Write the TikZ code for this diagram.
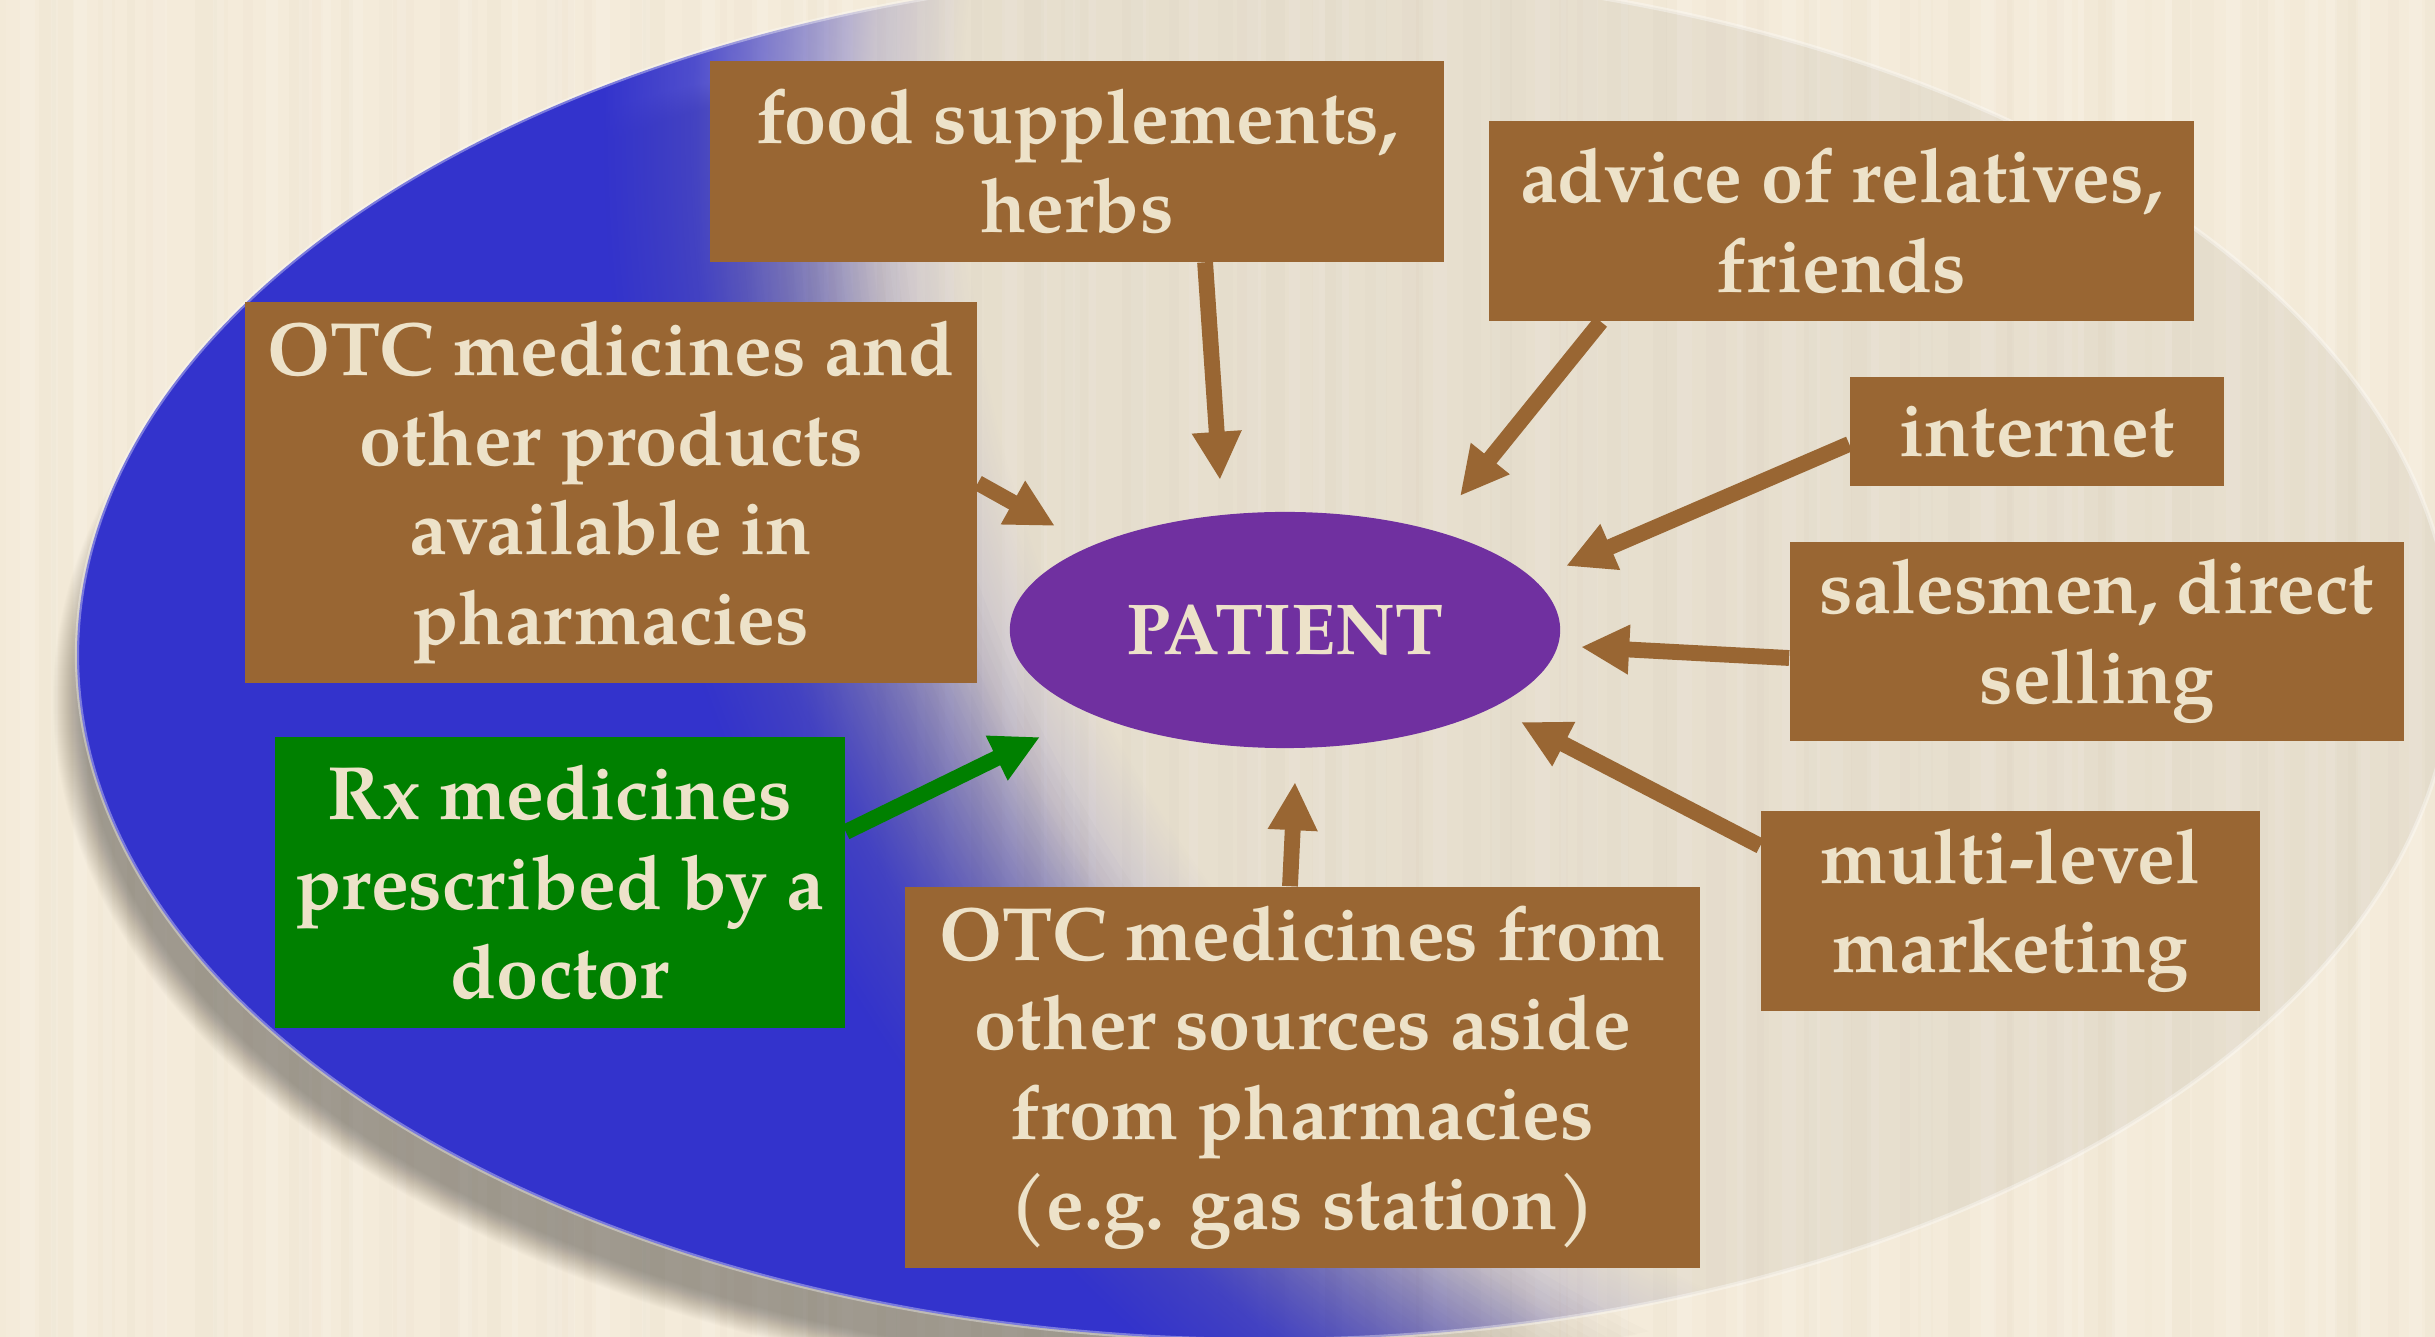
\documentclass[tikz,border=0pt]{standalone}
\usepackage{fontspec}
\usetikzlibrary{arrows.meta,shapes.geometric,fadings}
\newfontfamily\boxfont{texgyrepagella-bold.otf}

\definecolor{boxbrown}{RGB}{153,102,51}
\definecolor{cream}{RGB}{237,226,201}
\definecolor{rxgreen}{RGB}{0,128,0}
\definecolor{patpurple}{RGB}{112,48,160}
\definecolor{ovalblue}{RGB}{51,51,204}
\definecolor{paper}{RGB}{244,235,218}
\definecolor{stripe}{RGB}{200,182,150}
\definecolor{fadeclear}{gray}{0}
\definecolor{fadesolid}{gray}{1}

% radial mask: clear near the upper right, opaque further out
\pgfdeclareradialshading{ovalmask}{\pgfpointorigin}{%
  color(0bp)=(fadeclear); color(361.4bp)=(fadeclear);
  color(387.0bp)=(fadesolid!15.6!fadeclear);
  color(412.6bp)=(fadesolid!50!fadeclear);
  color(438.2bp)=(fadesolid!84.4!fadeclear);
  color(463.8bp)=(fadesolid); color(740bp)=(fadesolid)}
\pgfdeclarefading{ovalfade}{\pgfuseshading{ovalmask}}

\begin{document}
\begin{tikzpicture}[x=0.01cm, y=-0.01cm,
  box/.style={fill=boxbrown, text=cream, align=center, inner sep=0pt,
              font=\boxfont\fontsize{21.5}{25.5}\selectfont},
  feed/.style={draw=boxbrown, line width=4.5pt,
               -{Triangle[length=13.7pt,width=13.2pt]}},
  rxfeed/.style={feed, draw=rxgreen}]

\useasboundingbox (0,0) rectangle (2435,1337);
\clip (0,0) rectangle (2435,1337);

% paper background with soft vertical stripes
\fill[paper] (0,0) rectangle (2435,1337);
\foreach \i in {0,...,78} {
  \pgfmathsetmacro{\sx}{\i*31+10*sin(\i*131)}
  \pgfmathsetmacro{\sw}{6+16*abs(sin(\i*47))}
  \pgfmathsetmacro{\so}{0.015+0.035*abs(sin(\i*73))}
  \fill[stripe, opacity=\so] (\sx,0) rectangle ++(\sw,1337);
}
\foreach \i in {0,...,60} {
  \pgfmathsetmacro{\sx}{\i*41+20*cos(\i*59)}
  \pgfmathsetmacro{\sw}{5+10*abs(cos(\i*83))}
  \fill[white, opacity=0.12] (\sx,0) rectangle ++(\sw,1337);
}

% soft drop shadow of the large oval (only where the oval is blue)
\foreach \k in {0,...,29} {
  \pgfmathsetmacro{\ra}{1173+\k}
  \pgfmathsetmacro{\rb}{670+\k}
  \pgfmathsetmacro{\rc}{1340+8*\k}
  \begin{scope}
    \clip (1255,700) ellipse [x radius=\ra, y radius=\rb];
    \fill[black, opacity=0.0135, even odd rule]
      (-3000,-3000) rectangle (5500,4500) (2239,128) circle (\rc);
  \end{scope}
}

% large oval: faint tint, then blue fading out towards the upper right
\fill[black, opacity=0.05] (1265,655) ellipse [x radius=1188, y radius=685];
\fill[ovalblue, path fading=ovalfade, fit fading=false,
      fading transform={shift={(2239,128)}}]
  (1265,655) ellipse [x radius=1188, y radius=685];
\draw[white, opacity=0.35, line width=1.2pt] (1265,655) ellipse [x radius=1188, y radius=685];

% sources
\node[box, minimum width=7.34cm, minimum height=2.00cm] (food)  at (1077,161.5) {food supplements,\\herbs};
\node[box, minimum width=7.05cm, minimum height=2.00cm] (advice) at (1841.5,221) {advice of relatives,\\friends};
\node[box, minimum width=7.32cm, minimum height=3.81cm] (otcph) at (611,492.5) {OTC medicines and\\other products\\available in\\pharmacies};
\node[box, minimum width=3.74cm, minimum height=1.09cm] (net)   at (2037,431.5) {internet};
\node[box, minimum width=6.14cm, minimum height=1.99cm] (sales) at (2097,641.5) {salesmen, direct\\selling};
\node[box, fill=rxgreen, minimum width=5.70cm, minimum height=2.91cm] (rx) at (560,882.5) {Rx medicines\\prescribed by a\\doctor};
\node[box, minimum width=4.99cm, minimum height=2.00cm] (multi) at (2010.5,911) {multi-level\\marketing};
\node[box, minimum width=7.95cm, minimum height=3.81cm] (other) at (1302.5,1077.5) {OTC medicines from\\other sources aside\\from pharmacies\\(e.g. gas station)};

% the patient
\node[ellipse, fill=patpurple, text=cream, minimum width=5.5cm, minimum height=2.36cm,
      inner sep=0pt, font=\boxfont\fontsize{20.5}{24}\selectfont] (patient) at (1285,630) {PATIENT};

% arrow heads stop short of the patient oval
\coordinate (tFood)  at (1220,480);
\coordinate (tAdvice) at (1460,496);
\coordinate (tOtc)   at (1055,526);
\coordinate (tNet)   at (1566,566);
\coordinate (tSales) at (1581,647);
\coordinate (tMulti) at (1521,722);
\coordinate (tOther) at (1295,782);
\coordinate (tRx)    at (1040,737);

\draw[feed] ([xshift=1.28cm]food.south) -- (tFood);
\draw[feed] ([xshift=-2.405cm]advice.south) -- (tAdvice);
\draw[feed] ([yshift=0.095cm]otcph.east) -- (tOtc);
\draw[feed] ([yshift=-0.125cm]net.west) -- (tNet);
\draw[feed] ([yshift=-0.165cm]sales.west) -- (tSales);
\draw[feed] ([yshift=0.65cm]multi.west) -- (tMulti);
\draw[feed] ([xshift=-0.125cm]other.north) -- (tOther);
\draw[rxfeed] ([yshift=0.505cm]rx.east) -- (tRx);

\end{tikzpicture}
\end{document}
